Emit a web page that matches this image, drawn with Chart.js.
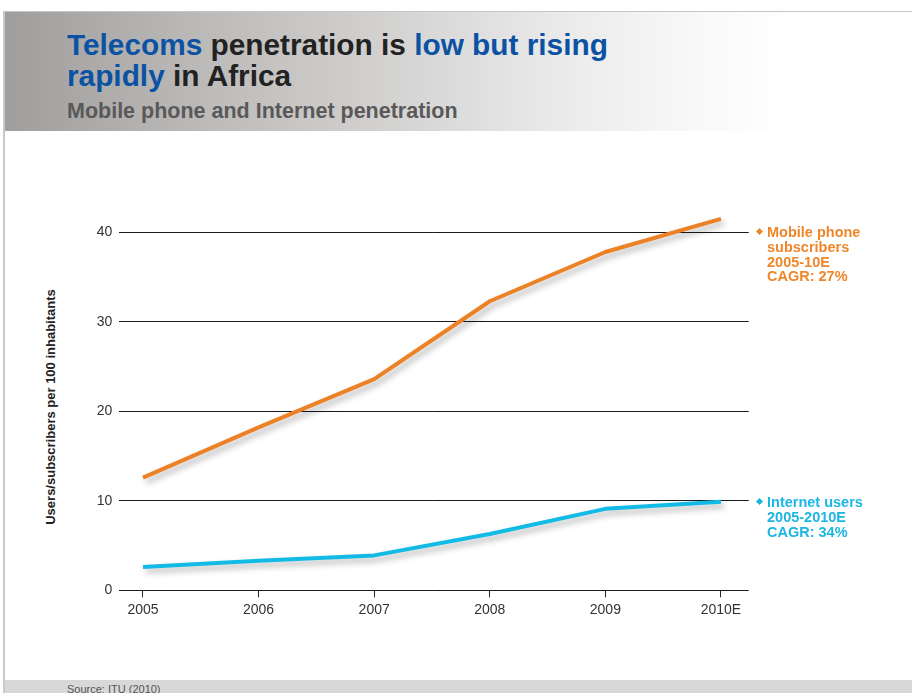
<!DOCTYPE html>
<html>
<head>
<meta charset="utf-8">
<script src="https://cdn.jsdelivr.net/npm/chart.js@4/dist/chart.umd.min.js"></script>
<style>
  html, body { margin: 0; padding: 0; width: 912px; height: 693px; overflow: hidden; background: #ffffff; font-family: "Liberation Sans", Arial, sans-serif; }
  #frame { position: absolute; left: 3px; top: 11px; width: 909px; height: 682px; border-left: 2px solid #c9c9c9; border-top: 1px solid #c4c4c4; }
  #header { position: absolute; left: 5px; top: 12px; width: 780px; height: 119px;
    background: linear-gradient(to right, #a09e9d 0%, #bcbab9 25%, #d2d1d0 48%, #e9e9e9 70%, #f8f8f8 88%, #ffffff 100%); }
  #title { position: absolute; left: 67px; top: 29px; font-weight: bold; font-size: 29.8px; line-height: 31px; color: #222222; white-space: nowrap; }
  #title .blue { color: #0b52a3; }
  #subtitle { position: absolute; left: 67px; top: 99px; font-weight: bold; font-size: 21.5px; color: #595959; white-space: nowrap; }
  #footer { position: absolute; left: 5px; top: 680px; width: 907px; height: 13px; background: #d8d8d8; }
  #source { position: absolute; left: 67px; top: 683px; font-size: 11px; color: #555; white-space: nowrap; }
  #ytitle { position: absolute; left: 50px; top: 407px; transform: translate(-50%, -50%) rotate(-90deg); font-weight: bold; font-size: 13px; color: #222; white-space: nowrap; }
  .ann { position: absolute; left: 767px; font-weight: bold; font-size: 14.5px; line-height: 14.8px; white-space: nowrap; }
  .dia { position: absolute; width: 5px; height: 5px; transform: rotate(45deg); }
  canvas { position: absolute; left: 0; top: 0; }
</style>
</head>
<body>
<div id="frame"></div>
<div id="header"></div>
<div id="title"><span class="blue">Telecoms</span> penetration is <span class="blue">low but rising</span><br><span class="blue">rapidly</span> in Africa</div>
<div id="subtitle">Mobile phone and Internet penetration</div>
<div id="footer"></div>
<div id="source">Source: ITU (2010)</div>
<div id="ytitle">Users/subscribers per 100 inhabitants</div>
<canvas id="c" width="912" height="693"></canvas>
<div class="dia" style="left:757px; top:229px; background:#f0862a;"></div>
<div class="ann" style="top:225px; color:#f0862a;">Mobile phone<br>subscribers<br>2005-10E<br>CAGR: 27%</div>
<div class="dia" style="left:757px; top:499px; background:#1bb6e3;"></div>
<div class="ann" style="top:495px; color:#1bb6e3;">Internet users<br>2005-2010E<br>CAGR: 34%</div>
<script>
const categories = ["2005", "2006", "2007", "2008", "2009", "2010E"];
const mobileSubscribers = [12.6, 18.2, 23.6, 32.3, 37.8, 41.5];
const internetUsers = [2.6, 3.3, 3.9, 6.3, 9.1, 9.9];
const yTicks = [0, 10, 20, 30, 40];

const shadowPlugin = {
  id: 'lineShadow',
  beforeDatasetDraw(chart) {
    const ctx = chart.ctx;
    ctx.save();
    ctx.shadowColor = 'rgba(0,0,0,0.30)';
    ctx.shadowBlur = 6;
    ctx.shadowOffsetX = 3;
    ctx.shadowOffsetY = 4;
  },
  afterDatasetDraw(chart) {
    chart.ctx.restore();
  }
};

new Chart(document.getElementById('c'), {
  type: 'line',
  data: {
    datasets: [
      {
        label: 'Mobile phone subscribers',
        data: mobileSubscribers.map((v, i) => ({ x: i, y: v })),
        borderColor: '#ec8126',
        borderWidth: 4,
        pointRadius: 0,
        tension: 0,
        borderJoinStyle: 'round',
        fill: false
      },
      {
        label: 'Internet users',
        data: internetUsers.map((v, i) => ({ x: i, y: v })),
        borderColor: '#12bbe6',
        borderWidth: 4,
        pointRadius: 0,
        tension: 0,
        borderJoinStyle: 'round',
        fill: false
      }
    ]
  },
  options: {
    responsive: false,
    animation: false,
    devicePixelRatio: 1,
    layout: { padding: { left: 0, right: 163.3, top: 205.5, bottom: 62.7 } },
    plugins: { legend: { display: false }, tooltip: { enabled: false } },
    scales: {
      x: {
        type: 'linear',
        min: -0.205,
        max: 5.24,
        afterFit: (s) => { s.height = 40; },
        afterBuildTicks: (s) => { s.ticks = categories.map((c, i) => ({ value: i })); },
        ticks: {
          includeBounds: false,
          stepSize: 1,
          padding: 4,
          color: '#333333',
          font: { family: '"Liberation Sans", Arial, sans-serif', size: 14 },
          maxRotation: 0,
          callback: (v) => categories[v]
        },
        grid: { drawOnChartArea: false, drawTicks: true, tickLength: 7, color: '#222222', lineWidth: 1 },
        border: { display: false }
      },
      y: {
        min: 0,
        max: 43,
        afterFit: (s) => { s.width = 119.3; },
        afterBuildTicks: (s) => { s.ticks = yTicks.map(v => ({ value: v })); },
        ticks: {
          padding: 7,
          color: '#333333',
          font: { family: '"Liberation Sans", Arial, sans-serif', size: 14 }
        },
        grid: { drawTicks: false, color: '#1a1a1a', lineWidth: 1 },
        border: { display: false }
      }
    }
  },
  plugins: [shadowPlugin]
});
</script>
</body>
</html>
